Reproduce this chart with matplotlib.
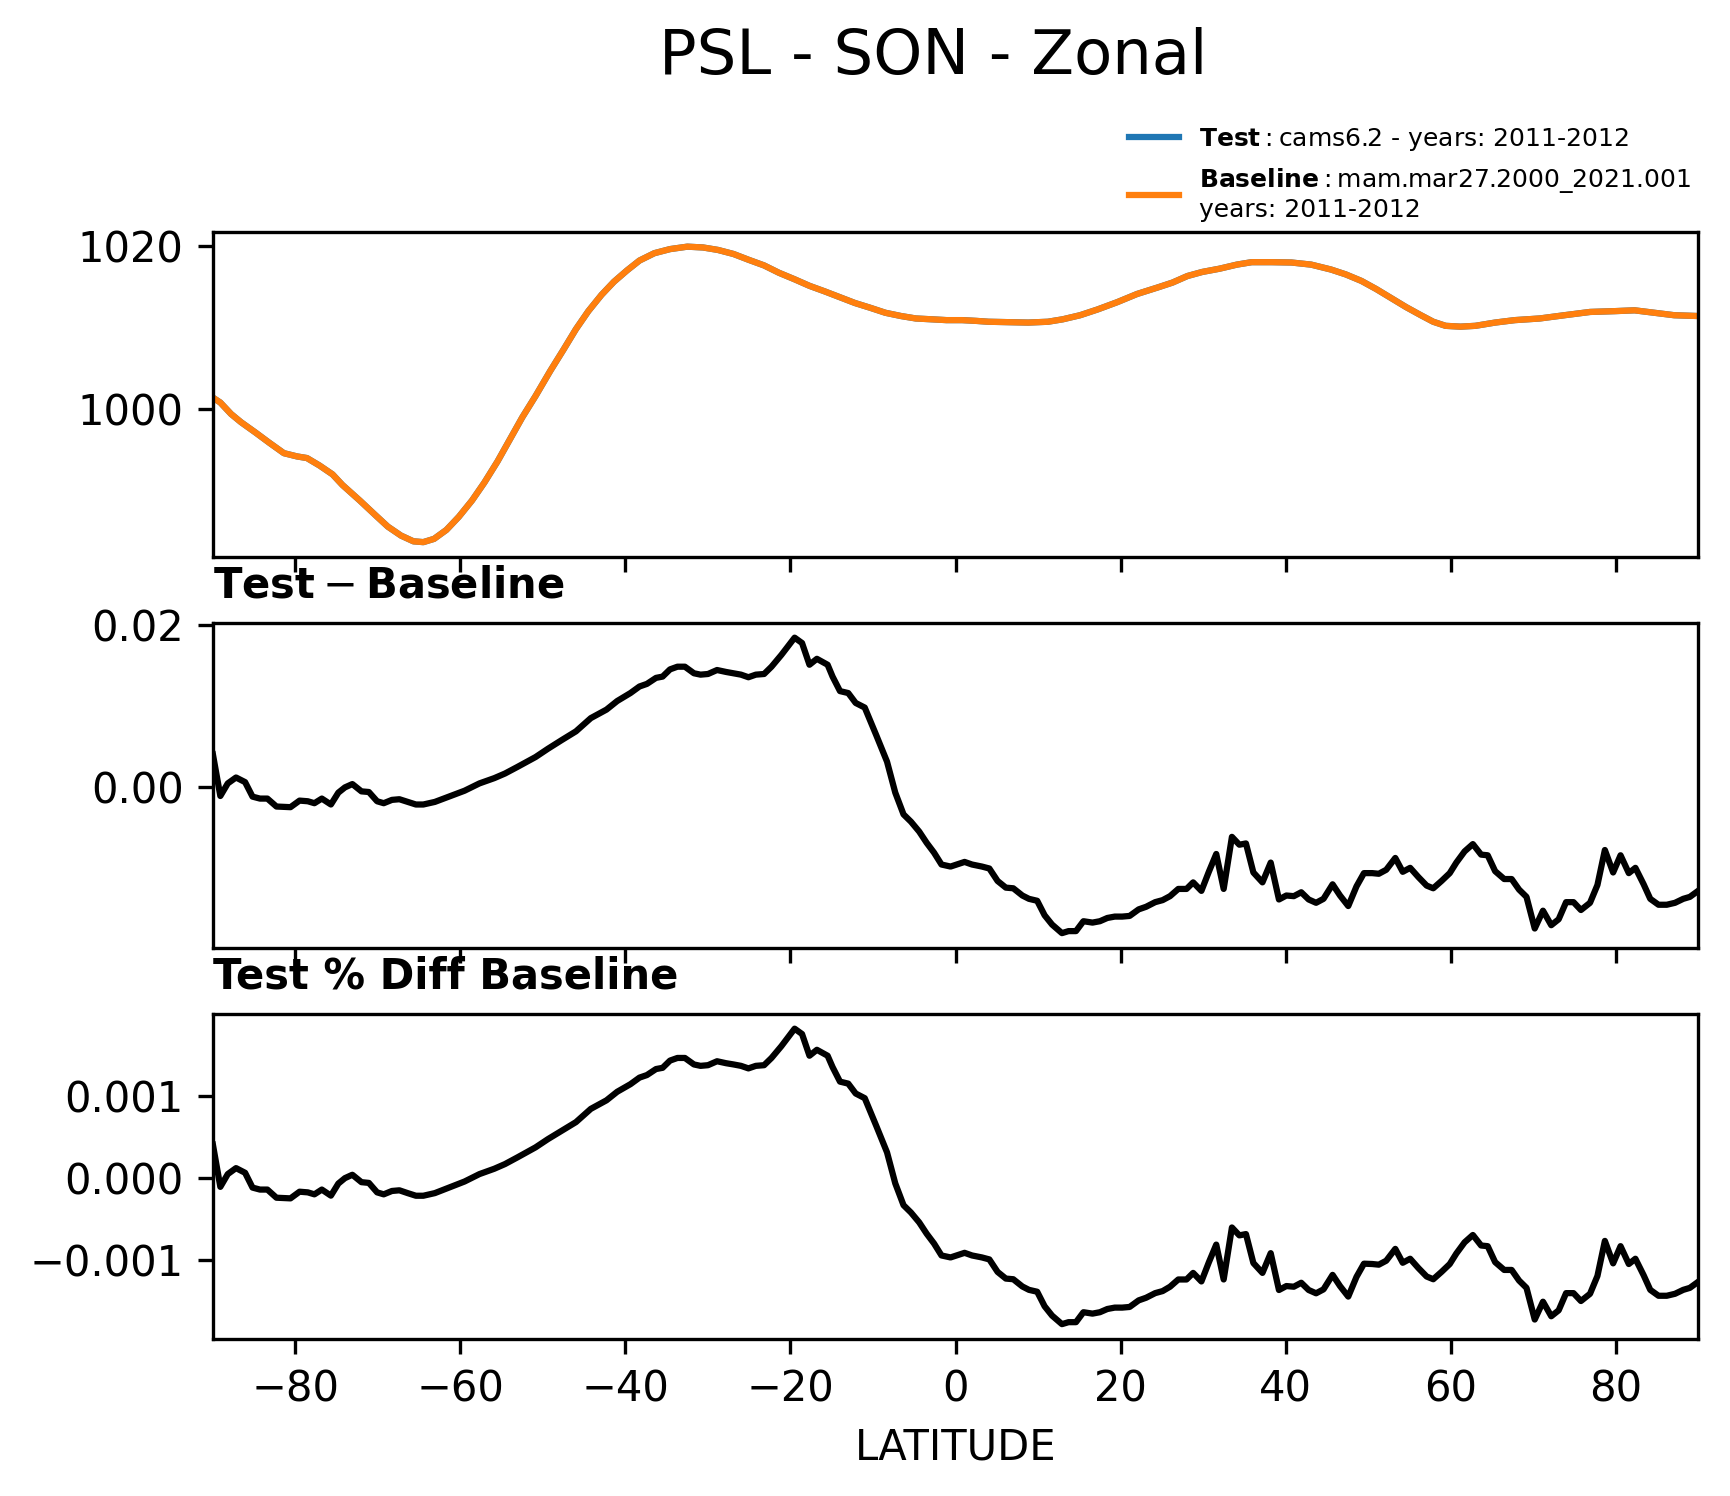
import numpy as np
import matplotlib
matplotlib.use("Agg")
import matplotlib.pyplot as plt

# zonal mean sea level pressure (hPa), baseline run
lat_base = [-90.0, -89.1, -87.8, -86.6, -84.8, -83.2, -81.4, -79.8, -78.6, -77.1,
            -75.5, -74.3, -72.2, -70.3, -68.8, -67.2, -65.7, -64.5, -63.2, -61.7,
            -60.2, -58.6, -57.1, -55.5, -54.0, -52.5, -50.9, -49.1, -47.5, -46.0,
            -44.5, -42.9, -41.4, -39.8, -38.3, -36.5, -34.6, -32.5, -30.6, -28.8,
            -26.9, -25.1, -23.2, -21.4, -19.5, -17.7, -15.8, -14.0, -12.2, -10.3,
            -8.5, -6.6, -4.8, -2.9, -1.1, 0.8, 2.6, 4.0, 6.4, 8.8,
            11.2, 13.0, 15.1, 17.2, 19.6, 22.0, 24.5, 26.3, 28.1, 29.9,
            32.0, 34.1, 35.9, 38.3, 40.7, 43.1, 45.5, 47.3, 49.2, 51.0,
            52.8, 54.6, 56.4, 57.9, 59.4, 61.2, 63.0, 65.4, 67.8, 70.8,
            73.8, 76.9, 79.9, 82.3, 84.7, 87.1, 90.0]
base_psl = [1001.4, 1000.8, 999.4, 998.4, 997.1, 995.9, 994.6, 994.2, 994.0, 993.1,
            992.0, 990.7, 988.8, 987.0, 985.6, 984.5, 983.8, 983.7, 984.1, 985.2,
            986.8, 988.8, 991.0, 993.6, 996.3, 999.0, 1001.6, 1004.7, 1007.3, 1009.8,
            1012.0, 1014.0, 1015.6, 1017.0, 1018.2, 1019.1, 1019.6, 1019.9, 1019.8, 1019.5,
            1019.0, 1018.3, 1017.6, 1016.7, 1015.9, 1015.1, 1014.4, 1013.7, 1013.0, 1012.4,
            1011.8, 1011.4, 1011.1, 1011.0, 1010.9, 1010.9, 1010.8, 1010.7, 1010.65, 1010.6,
            1010.7, 1011.0, 1011.5, 1012.2, 1013.1, 1014.1, 1014.9, 1015.5, 1016.3, 1016.8,
            1017.2, 1017.7, 1018.0, 1018.0, 1017.96, 1017.7, 1017.1, 1016.5, 1015.7, 1014.7,
            1013.6, 1012.5, 1011.5, 1010.7, 1010.2, 1010.1, 1010.2, 1010.6, 1010.9, 1011.1,
            1011.5, 1011.9, 1012.0, 1012.1, 1011.8, 1011.5, 1011.4]
# test run differs by < 0.02 hPa, so it sits under the baseline curve
test_psl = list(base_psl)

lat_diff = [-90.0, -89.1, -88.2, -87.2, -86.1, -85.2, -84.3, -83.4, -82.3, -80.6,
            -79.5, -78.5, -77.7, -76.8, -75.7, -74.8, -74.0, -73.1, -72.0, -71.1,
            -70.1, -69.3, -68.3, -67.4, -66.4, -65.4, -64.5, -63.1, -61.4, -59.5,
            -57.7, -55.9, -54.6, -53.1, -50.9, -49.4, -47.7, -46.0, -44.2, -42.3,
            -41.0, -39.4, -38.3, -37.4, -36.3, -35.5, -34.6, -33.7, -32.8, -31.7,
            -30.9, -30.0, -28.9, -27.8, -26.9, -26.0, -25.1, -24.2, -23.2, -22.3,
            -21.1, -19.5, -18.6, -17.7, -16.8, -15.5, -14.9, -14.0, -13.0, -12.1,
            -11.0, -9.6, -8.3, -7.3, -6.3, -5.4, -4.4, -3.5, -2.6, -1.7,
            -0.6, 1.1, 2.0, 3.2, 4.1, 5.1, 6.1, 7.0, 8.1, 8.9,
            9.9, 10.8, 11.7, 12.9, 13.7, 14.6, 15.5, 16.6, 17.5, 18.4,
            19.3, 20.2, 21.1, 22.2, 23.1, 24.2, 25.1, 26.0, 27.0, 28.0,
            28.8, 29.8, 30.7, 31.6, 32.5, 33.5, 34.4, 35.2, 36.1, 37.2,
            38.2, 39.2, 40.1, 41.0, 41.9, 42.8, 43.7, 44.6, 45.7, 46.6,
            47.6, 48.6, 49.5, 50.5, 51.3, 52.2, 53.3, 54.2, 55.1, 56.1,
            57.1, 57.9, 58.9, 59.9, 60.7, 61.7, 62.7, 63.7, 64.5, 65.4,
            66.5, 67.4, 68.3, 69.2, 70.2, 71.2, 72.2, 73.1, 74.0, 74.9,
            75.8, 76.9, 77.8, 78.7, 79.7, 80.6, 81.6, 82.4, 83.4, 84.2,
            85.2, 86.2, 87.2, 88.2, 89.0, 90.0]

# test - baseline, in units of 1e-3 hPa
diff_e3 = [4.07, -1.06, 0.49, 1.22, 0.65, -1.14, -1.38, -1.38, -2.36, -2.44,
           -1.63, -1.71, -1.95, -1.38, -2.11, -0.65, 0.0, 0.41, -0.49, -0.57,
           -1.71, -1.95, -1.54, -1.46, -1.79, -2.11, -2.11, -1.79, -1.14, -0.41,
           0.49, 1.14, 1.71, 2.52, 3.74, 4.76, 5.85, 6.91, 8.54, 9.59,
           10.65, 11.63, 12.44, 12.76, 13.50, 13.66, 14.55, 14.88, 14.88, 14.07,
           13.90, 13.98, 14.47, 14.23, 14.07, 13.90, 13.58, 13.90, 13.98, 14.88,
           16.34, 18.46, 17.80, 15.12, 15.85, 15.12, 13.66, 11.87, 11.63, 10.41,
           9.84, 6.42, 3.17, -0.65, -3.33, -4.23, -5.45, -6.83, -8.05, -9.51,
           -9.76, -9.19, -9.51, -9.76, -10.0, -11.54, -12.36, -12.44, -13.33, -13.74,
           -13.98, -15.77, -16.91, -17.97, -17.72, -17.72, -16.50, -16.67, -16.50, -16.10,
           -15.93, -15.93, -15.85, -15.04, -14.72, -14.15, -13.90, -13.41, -12.52, -12.52,
           -11.71, -12.76, -10.41, -8.21, -12.52, -6.10, -7.07, -6.91, -10.49, -11.71,
           -9.27, -13.82, -13.33, -13.41, -12.93, -13.82, -14.23, -13.74, -11.95, -13.33,
           -14.63, -12.20, -10.57, -10.57, -10.65, -10.16, -8.70, -10.41, -9.92, -11.06,
           -12.11, -12.44, -11.54, -10.57, -9.27, -7.89, -6.99, -8.29, -8.37, -10.33,
           -11.30, -11.30, -12.60, -13.50, -17.40, -15.20, -16.99, -16.26, -14.15, -14.15,
           -15.12, -14.23, -12.03, -7.72, -10.49, -8.37, -10.57, -9.92, -11.95, -13.74,
           -14.47, -14.47, -14.23, -13.74, -13.50, -12.76]

# test % diff baseline, in units of 1e-4 %
pct_e4 = [4.07, -1.06, 0.49, 1.22, 0.65, -1.15, -1.39, -1.39, -2.38, -2.46,
          -1.65, -1.73, -1.97, -1.39, -2.13, -0.66, 0.0, 0.41, -0.49, -0.58,
          -1.73, -1.97, -1.56, -1.48, -1.82, -2.14, -2.14, -1.82, -1.16, -0.41,
          0.49, 1.14, 1.71, 2.52, 3.74, 4.74, 5.77, 6.81, 8.42, 9.46,
          10.50, 11.42, 12.22, 12.53, 13.26, 13.41, 14.29, 14.61, 14.61, 13.82,
          13.65, 13.73, 14.21, 13.97, 13.82, 13.65, 13.34, 13.65, 13.73, 14.61,
          16.05, 18.17, 17.52, 14.88, 15.60, 14.88, 13.50, 11.73, 11.49, 10.29,
          9.72, 6.34, 3.13, -0.64, -3.29, -4.18, -5.38, -6.75, -7.95, -9.40,
          -9.64, -9.08, -9.40, -9.64, -9.88, -11.40, -12.21, -12.29, -13.17, -13.58,
          -13.81, -15.58, -16.71, -17.75, -17.51, -17.51, -16.30, -16.47, -16.30, -15.91,
          -15.74, -15.74, -15.66, -14.86, -14.54, -13.98, -13.73, -13.20, -12.32, -12.32,
          -11.52, -12.56, -10.24, -8.08, -12.32, -6.00, -6.96, -6.80, -10.32, -11.52,
          -9.12, -13.60, -13.12, -13.20, -12.72, -13.60, -14.00, -13.52, -11.76, -13.12,
          -14.40, -12.00, -10.40, -10.44, -10.52, -10.04, -8.60, -10.29, -9.80, -10.93,
          -11.96, -12.29, -11.40, -10.44, -9.16, -7.80, -6.91, -8.19, -8.27, -10.21,
          -11.16, -11.16, -12.45, -13.34, -17.19, -15.02, -16.79, -16.07, -13.98, -13.98,
          -14.94, -14.06, -11.89, -7.63, -10.36, -8.27, -10.44, -9.80, -11.81, -13.58,
          -14.30, -14.30, -14.06, -13.58, -13.34, -12.61]

diff = np.array(diff_e3) * 1e-3
pct = np.array(pct_e4) * 1e-4

fig, axs = plt.subplots(3, 1, sharex=True, figsize=(1731 / 300, 1496 / 300), dpi=300)
fig.subplots_adjust(left=0.123, right=0.981, top=0.845, bottom=0.105, hspace=0.203)

ax = axs[0]
ax.plot(lat_base, test_psl, color="tab:blue",
        label="$\\mathbf{Test}:$cams6.2 - years: 2011-2012")
ax.plot(lat_base, base_psl, color="tab:orange",
        label="$\\mathbf{Baseline}:$mam.mar27.2000_2021.001\nyears: 2011-2012")
ax.legend(loc="lower right", bbox_to_anchor=(1.01, 0.96), frameon=False, fontsize=6)

axs[1].plot(lat_diff, diff, color="k")
axs[1].set_title("$\\mathbf{Test} - \\mathbf{Baseline}$", loc="left", fontsize=10)

axs[2].plot(lat_diff, pct, color="k")
axs[2].set_title("Test % Diff Baseline", loc="left", fontweight="bold", fontsize=10)
axs[2].set_xlim(-90, 90)
axs[2].set_xlabel("LATITUDE")

fig.text(0.539, 0.962, "PSL - SON - Zonal", ha="center", va="center", fontsize=15)

fig.savefig("out.png", dpi=300)
